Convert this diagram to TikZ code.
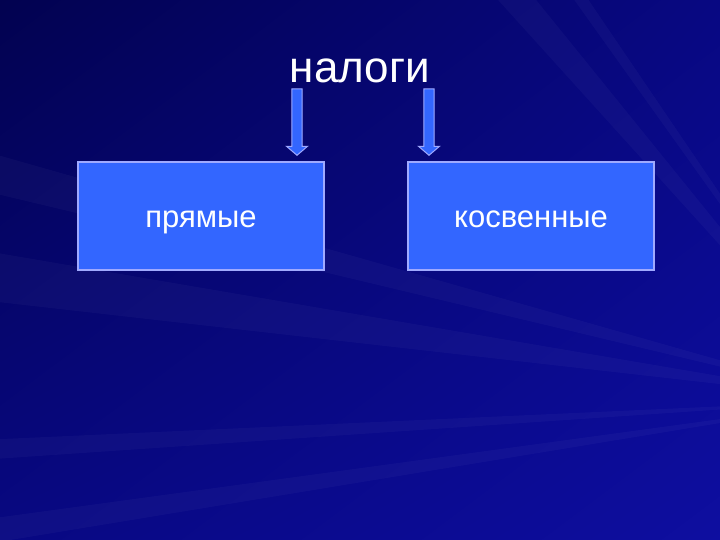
\documentclass[tikz,border=0pt]{standalone}
\usepackage{fontspec}
\setmainfont{Liberation Sans}
\usetikzlibrary{calc,shadings}

\definecolor{fondsombre}{RGB}{2,2,80}
\definecolor{fondmoyen}{RGB}{8,8,130}
\definecolor{fondclair}{RGB}{14,14,160}
\definecolor{boitebleu}{RGB}{51,102,255}
\definecolor{bordclair}{RGB}{160,170,255}

\tikzset{
  boite/.style={draw=bordclair, line width=1.4pt, fill=boitebleu, text=white,
    minimum width=246pt, minimum height=108pt, inner sep=0pt,
    text height=24pt, text depth=0pt,
    font=\fontsize{31}{36}\selectfont},
  fleche/.style={draw=bordclair, line width=1pt, fill=boitebleu, line join=miter},
  rayon/.style={fill=white, opacity=0.03}
}

% fleche pleine entre deux points nommes
\newcommand{\flechepleine}[2]{%
  \draw[fleche] let \p1=(#1), \p2=(#2) in
    (\x1-5.2pt,\y1) -- (\x1+5.2pt,\y1) -- (\x1+5.2pt,\y2+9pt) -- (\x1+10.5pt,\y2+9pt)
    -- (\x1,\y2) -- (\x1-10.5pt,\y2+9pt) -- (\x1-5.2pt,\y2+9pt) -- cycle;}

\begin{document}
\begin{tikzpicture}[x=1pt,y=-1pt]
  % Le fond
  \useasboundingbox (0,0) rectangle (720,540);
  \shade[upper left=fondsombre, upper right=fondmoyen,
         lower left=fondmoyen, lower right=fondclair] (0,0) rectangle (720,540);
  \begin{scope}
    \clip (0,0) rectangle (720,540);
    \foreach \a/\b in {480/520, 560/575} {
      \fill[rayon] (860,400) -- (\a,-20) -- (\b,-20) -- cycle;
    }
    \foreach \a/\b in {150/190, 250/300, 440/460, 520/545} {
      \fill[rayon] (860,400) -- (-20,\a) -- (-20,\b) -- cycle;
    }
  \end{scope}

  % Le titre
  \node[anchor=base, text=white, inner sep=0pt, font=\fontsize{44}{50}\selectfont]
    (titre) at (360,83) {налоги};

  % Les boites
  \node[boite] (prm) at (201,216) {прямые};
  \node[boite] (ksv) at (531,216) {косвенные};

  % Les fleches
  \coordinate (d1) at (297,89);
  \coordinate (d2) at (429,89);
  \coordinate (f1) at ($(prm.north east)+(-27,-6)$);
  \coordinate (f2) at ($(ksv.north west)+(21,-6)$);
  \flechepleine{d1}{f1}
  \flechepleine{d2}{f2}
\end{tikzpicture}
\end{document}
